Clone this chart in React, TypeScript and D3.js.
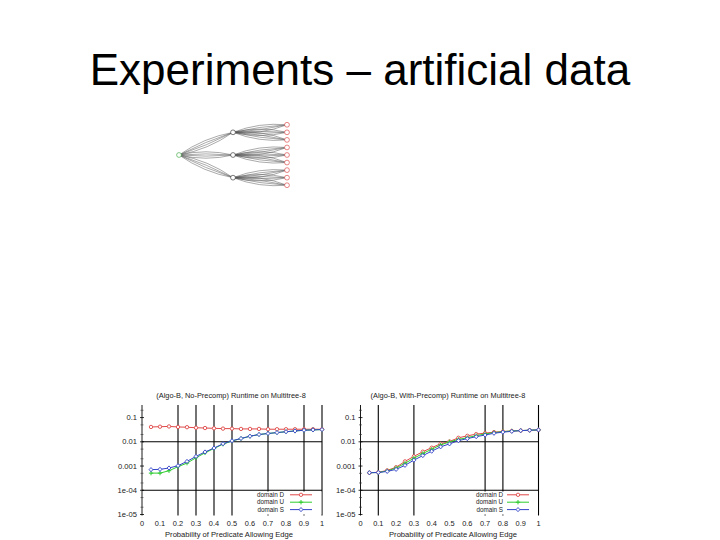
import React from 'react';
import * as d3 from 'd3';

const xValues = [0.05, 0.1, 0.15, 0.2, 0.25, 0.3, 0.35, 0.4, 0.45, 0.5, 0.55, 0.6, 0.65, 0.7, 0.75, 0.8, 0.85, 0.9, 0.95, 1.0];

const leftD = [0.041, 0.042, 0.043, 0.041, 0.04, 0.038, 0.037, 0.036, 0.035, 0.035, 0.034, 0.034, 0.034, 0.033, 0.033, 0.033, 0.033, 0.033, 0.033, 0.033];
const leftU = [0.00051, 0.00051, 0.00064, 0.00094, 0.00132, 0.0022, 0.0035, 0.0053, 0.008, 0.0108, 0.0136, 0.017, 0.02, 0.022, 0.024, 0.026, 0.028, 0.03, 0.031, 0.032];
const leftS = [0.00071, 0.00073, 0.00083, 0.00103, 0.00155, 0.0025, 0.0038, 0.0055, 0.0083, 0.011, 0.0137, 0.017, 0.02, 0.022, 0.024, 0.026, 0.028, 0.03, 0.031, 0.032];

const rightD = [0.00053, 0.00055, 0.00066, 0.00089, 0.00155, 0.0025, 0.0039, 0.0057, 0.0083, 0.0103, 0.0146, 0.0176, 0.0207, 0.0227, 0.025, 0.0266, 0.028, 0.029, 0.03, 0.031];
const rightU = [0.00053, 0.00054, 0.00063, 0.00083, 0.0013, 0.0021, 0.0033, 0.0049, 0.0074, 0.0099, 0.0125, 0.0148, 0.018, 0.021, 0.024, 0.0262, 0.028, 0.029, 0.03, 0.031];
const rightS = [0.00053, 0.00054, 0.0006, 0.00073, 0.00107, 0.00175, 0.0027, 0.0041, 0.0062, 0.0082, 0.0112, 0.0135, 0.0163, 0.019, 0.0225, 0.025, 0.027, 0.029, 0.03, 0.031];

const xTicks = [0, 0.1, 0.2, 0.3, 0.4, 0.5, 0.6, 0.7, 0.8, 0.9, 1];
const xTickLabels = ['0', '0.1', '0.2', '0.3', '0.4', '0.5', '0.6', '0.7', '0.8', '0.9', '1'];
const yTicks = [0.1, 0.01, 0.001, 1e-4, 1e-5];
const yTickLabels = ['0.1', '0.01', '0.001', '1e-04', '1e-05'];
const yMinorTicks = [0.2, 0.05, 0.02, 0.005, 0.002, 0.0005, 0.0002, 5e-5, 2e-5];
const leftGridX = [0.2, 0.3, 0.4, 0.5, 0.7, 0.9, 1.0];
const rightGridX = [0.1, 0.3, 0.7, 0.8, 1.0];
const gridY = [0.01, 1e-4];
const seriesNames = ['domain D', 'domain U', 'domain S'];
const seriesColors = ['#e04848', '#2ecc2e', '#3344c8'];

const leftTitle = '(Algo-B, No-Precomp) Runtime on Multitree-8';
const rightTitle = '(Algo-B, With-Precomp) Runtime on Multitree-8';
const xLabel = 'Probability of Predicate Allowing Edge';
const slideTitle = 'Experiments \u2013 artificial data';

const treeData = {
  name: 'r',
  children: [
    { name: 'a', children: [{ name: 'a1' }, { name: 'a2' }, { name: 'a3' }] },
    { name: 'b', children: [{ name: 'b1' }, { name: 'b2' }, { name: 'b3' }] },
    { name: 'c', children: [{ name: 'c1' }, { name: 'c2' }, { name: 'c3' }] },
  ],
};
const edgeOffsets = [-3.2, -1.1, 1.1, 3.2];

const FONT = 'Liberation Sans, Arial, Helvetica, sans-serif';

function Marker({ kind, x, y, color }: { kind: number; x: number; y: number; color: string }) {
  if (kind === 0) return <circle cx={x} cy={y} r={1.7} fill="white" stroke={color} strokeWidth={0.9} />;
  if (kind === 1)
    return (
      <path d={`M${x - 2.2},${y}H${x + 2.2}M${x},${y - 2.2}V${y + 2.2}`} stroke={color} strokeWidth={1} />
    );
  return (
    <path d={`M${x},${y - 2.1}L${x + 1.9},${y}L${x},${y + 2.1}L${x - 1.9},${y}Z`} fill="white" stroke={color} strokeWidth={0.9} />
  );
}

function Panel({ x0, x1, title, titleX, series, gridX, legendTextX, legendLineX0, legendLineX1, xLabelX }: any) {
  const top = 405;
  const bottom = 514.5;
  const xs = d3.scaleLinear().domain([0, 1]).range([x0, x1]);
  const ys = d3.scaleLog().domain([1e-5, 0.33]).range([bottom, top]);
  const line = d3.line<number>().x((_, i) => xs(xValues[i])).y((d) => ys(d));
  return (
    <g>
      <text x={titleX} y={397.5} fontSize={7.4} fontFamily={FONT} textAnchor="middle" fill="#222">{title}</text>
      {gridX.map((g: number) => (
        <line key={'gx' + g} x1={xs(g)} x2={xs(g)} y1={top} y2={bottom + 1} stroke="#000" strokeWidth={1.1} />
      ))}
      {gridY.map((g: number) => (
        <line key={'gy' + g} x1={x0} x2={x1} y1={ys(g)} y2={ys(g)} stroke="#000" strokeWidth={1.1} />
      ))}
      <line x1={x0} x2={x0} y1={top} y2={bottom + 1} stroke="#000" strokeWidth={0.9} />
      {yTicks.map((t, i) => (
        <g key={'yt' + i}>
          <line x1={x0 - 2} x2={x0 + 2} y1={ys(t)} y2={ys(t)} stroke="#000" strokeWidth={0.8} />
          <text x={x0 - 5} y={ys(t) + 2.6} fontSize={7.6} fontFamily={FONT} textAnchor="end" fill="#222">{yTickLabels[i]}</text>
        </g>
      ))}
      {yMinorTicks.map((t, i) => (
        <line key={'ym' + i} x1={x0 - 1.5} x2={x0 + 1.5} y1={ys(t)} y2={ys(t)} stroke="#333" strokeWidth={0.6} />
      ))}
      {xTicks.map((t, i) => (
        <text key={'xt' + i} x={xs(t)} y={525.8} fontSize={7.4} fontFamily={FONT} textAnchor="middle" fill="#222">{xTickLabels[i]}</text>
      ))}
      <text x={xLabelX} y={536.8} fontSize={7.6} fontFamily={FONT} textAnchor="middle" fill="#222">{xLabel}</text>
      {series.map((s: number[], k: number) => (
        <g key={'s' + k}>
          <path d={line(s) || ''} fill="none" stroke={seriesColors[k]} strokeWidth={1} />
          {s.map((v, i) => (
            <Marker key={i} kind={k} x={xs(xValues[i])} y={ys(v)} color={seriesColors[k]} />
          ))}
        </g>
      ))}
      <rect x={legendTextX - 34} y={491.5} width={x1 - (legendTextX - 34) - 0.6} height={bottom - 491.5} fill="white" />
      {seriesNames.map((n, k) => {
        const y = 494.8 + k * 7.4;
        return (
          <g key={'lg' + k}>
            <text x={legendTextX} y={y + 2.2} fontSize={6.3} fontFamily={FONT} textAnchor="end" fill="#222">{n}</text>
            <line x1={legendLineX0} x2={legendLineX1} y1={y} y2={y} stroke={seriesColors[k]} strokeWidth={1} />
            <Marker kind={k} x={(legendLineX0 + legendLineX1) / 2} y={y} color={seriesColors[k]} />
          </g>
        );
      })}
    </g>
  );
}

function Tree() {
  const root = d3.hierarchy(treeData as any);
  d3.cluster().size([68, 108]).separation(() => 1)(root as any);
  const ox = 179;
  const oy = 121;
  const pos = (n: any) => [ox + n.y, oy + n.x];
  const links = root.links();
  const paths: string[] = [];
  links.forEach((l) => {
    const [sx, sy] = pos(l.source);
    const [tx, ty] = pos(l.target);
    const mx = (sx + tx) / 2;
    const my = (sy + ty) / 2;
    const dx = tx - sx;
    const dy = ty - sy;
    const len = Math.hypot(dx, dy);
    const nx = -dy / len;
    const ny = dx / len;
    edgeOffsets.forEach((o) => {
      paths.push(`M${sx},${sy}Q${mx + nx * o * 2},${my + ny * o * 2} ${tx},${ty}`);
    });
  });
  const nodes = root.descendants();
  return (
    <g>
      {paths.map((p, i) => (
        <path key={i} d={p} fill="none" stroke="#555" strokeWidth={0.5} />
      ))}
      {nodes.map((n: any, i) => {
        const [x, y] = pos(n);
        const color = n.depth === 0 ? '#4caf50' : n.depth === 2 ? '#e05050' : '#444';
        return <circle key={'n' + i} cx={x} cy={y} r={2.4} fill="white" stroke={color} strokeWidth={0.7} />;
      })}
    </g>
  );
}

export default function App() {
  return (
    <svg width={720} height={540} style={{ position: 'absolute', left: 0, top: 0, background: 'white' }}>
      <rect x={0} y={0} width={720} height={540} fill="white" />
      <text x={360} y={85} fontSize={44} fontFamily={FONT} textAnchor="middle" fill="#000">{slideTitle}</text>
      <Tree />
      <Panel x0={142} x1={322} title={leftTitle} titleX={231} series={[leftD, leftU, leftS]} gridX={leftGridX}
        legendTextX={284} legendLineX0={290} legendLineX1={312} xLabelX={229} />
      <Panel x0={360.5} x1={538.5} title={rightTitle} titleX={448} series={[rightD, rightU, rightS]} gridX={rightGridX}
        legendTextX={503} legendLineX0={507} legendLineX1={529} xLabelX={453} />
    </svg>
  );
}
